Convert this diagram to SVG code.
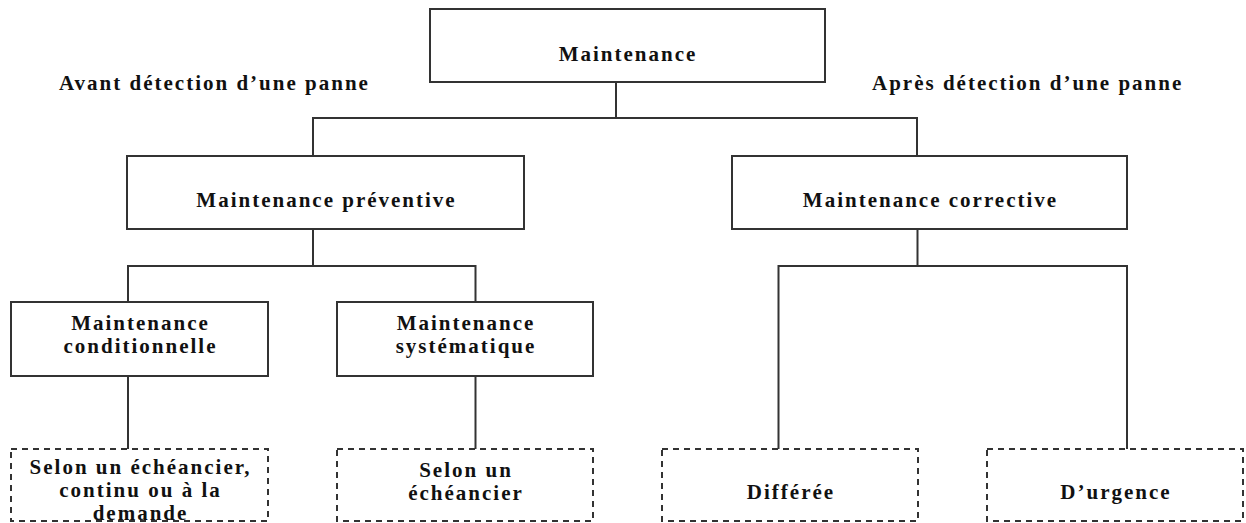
<svg xmlns="http://www.w3.org/2000/svg" width="1246" height="523" viewBox="0 0 1246 523">
<style>
.box{fill:#fff;stroke:#333;stroke-width:2}
.dash{fill:#fff;stroke:#333;stroke-width:2;stroke-dasharray:6 5}
.ln{fill:none;stroke:#333;stroke-width:2}
text{font-family:"Liberation Serif","Times New Roman",serif;font-weight:bold;font-size:21px;letter-spacing:2px;fill:#111}
.c{text-anchor:middle}
</style>
<rect width="1246" height="523" fill="#fff"/>
<g id="connectors">
<polyline class="ln" points="616,82 616,118"/>
<polyline class="ln" points="313,156 313,118 917,118 917,156"/>
<polyline class="ln" points="313,229 313,266"/>
<polyline class="ln" points="128,302 128,266 475.5,266 475.5,302"/>
<polyline class="ln" points="128,376 128,449"/>
<polyline class="ln" points="475.5,376 475.5,449"/>
<polyline class="ln" points="917.5,229 917.5,266"/>
<polyline class="ln" points="778.5,449 778.5,266 1127,266 1127,449"/>
</g>
<g id="label-avant"><text x="59" y="90">Avant détection d’une panne</text></g>
<g id="label-apres"><text x="872" y="90">Après détection d’une panne</text></g>
<g id="n-maintenance"><rect class="box" x="430" y="9" width="395" height="73"/><text class="c" x="628" y="61">Maintenance</text></g>
<g id="n-preventive"><rect class="box" x="127" y="156" width="397" height="73"/><text class="c" x="326.5" y="207">Maintenance préventive</text></g>
<g id="n-corrective"><rect class="box" x="732" y="156" width="395" height="73"/><text class="c" x="930.5" y="207">Maintenance corrective</text></g>
<g id="n-conditionnelle"><rect class="box" x="11" y="302" width="257" height="74"/><text class="c" x="140.5" y="330">Maintenance</text><text class="c" x="140.5" y="353">conditionnelle</text></g>
<g id="n-systematique"><rect class="box" x="337" y="302" width="256" height="74"/><text class="c" x="466" y="330">Maintenance</text><text class="c" x="466" y="353">systématique</text></g>
<g id="n-selon1"><rect class="dash" x="11" y="449" width="257" height="72"/><text class="c" x="140.5" y="474">Selon un échéancier,</text><text class="c" x="140.5" y="497">continu ou à la</text><text class="c" x="140.5" y="520">demande</text></g>
<g id="n-selon2"><rect class="dash" x="337" y="449" width="256" height="72"/><text class="c" x="466" y="477">Selon un</text><text class="c" x="466" y="500">échéancier</text></g>
<g id="n-differee"><rect class="dash" x="662" y="449" width="256" height="72"/><text class="c" x="791" y="499">Différée</text></g>
<g id="n-urgence"><rect class="dash" x="987" y="449" width="256" height="72"/><text class="c" x="1116" y="499">D’urgence</text></g>
</svg>
